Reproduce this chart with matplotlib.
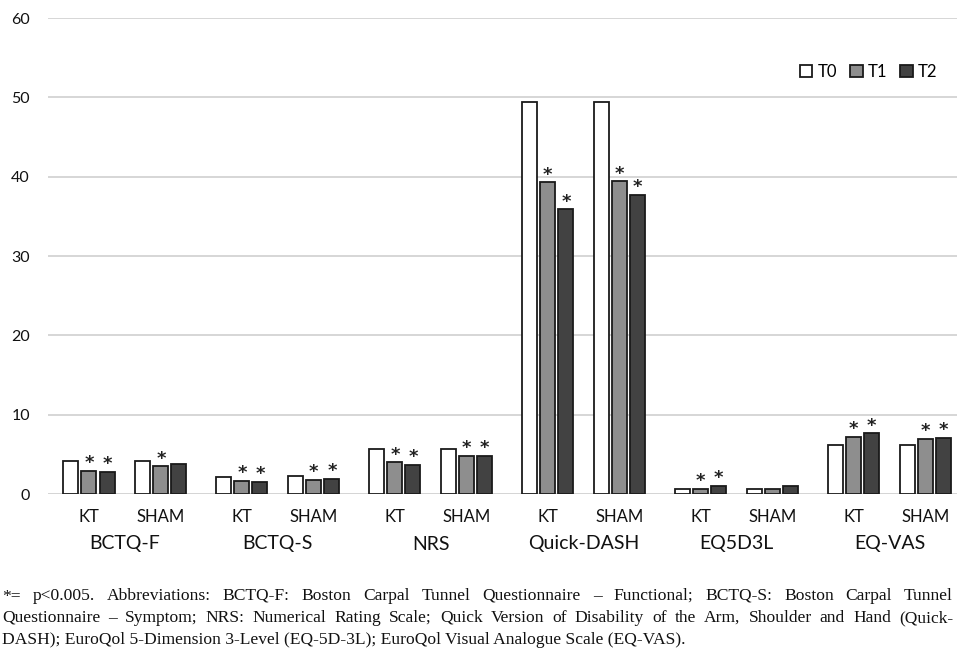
import matplotlib
matplotlib.use("Agg")
import matplotlib.pyplot as plt
import numpy as np
from matplotlib.patches import Patch

categories = ["BCTQ-F", "BCTQ-S", "NRS", "Quick-DASH", "EQ5D3L", "EQ-VAS"]
groups = ["KT", "SHAM"]
series = ["T0", "T1", "T2"]

# values per category: [KT, SHAM]
T0 = [[4.2, 4.2], [2.15, 2.27], [5.67, 5.7], [49.4, 49.4], [0.67, 0.67], [6.18, 6.18]]
T1 = [[2.9, 3.5], [1.64, 1.8], [4.0, 4.8], [39.3, 39.4], [0.67, 0.67], [7.19, 6.94]]
T2 = [[2.8, 3.75], [1.55, 1.89], [3.66, 4.83], [35.9, 37.7], [1.0, 1.0], [7.65, 7.06]]

# significance flags (T1, T2) per category, per group
sig_T1 = [[1, 1], [1, 1], [1, 1], [1, 1], [1, 0], [1, 1]]
sig_T2 = [[1, 0], [1, 1], [1, 1], [1, 1], [1, 0], [1, 1]]

yticks = [0, 10, 20, 30, 40, 50, 60]

footnote = [
    "*= p<0.005. Abbreviations: BCTQ-F: Boston Carpal Tunnel Questionnaire \u2013 Functional; BCTQ-S: Boston Carpal Tunnel",
    "Questionnaire \u2013 Symptom; NRS: Numerical Rating Scale; Quick Version of Disability of the Arm, Shoulder and Hand (Quick-",
    "DASH); EuroQol 5-Dimension 3-Level (EQ-5D-3L); EuroQol Visual Analogue Scale (EQ-VAS).",
]
justify = [True, True, False]

colors = ["#ffffff", "#8e8e8e", "#424242"]
edge = "#1a1a1a"

W, H = 957, 652
fig = plt.figure(figsize=(W / 100, H / 100), dpi=100)
ax = fig.add_axes([48 / W, (H - 494) / H, 1 - 48 / W, (494 - 18) / H])

sub_off = 0.235
bw = 0.098
pitch = 0.118
data = [T0, T1, T2]
sigs = [None, sig_T1, sig_T2]

for ci, cat in enumerate(categories):
    for gi, g in enumerate(groups):
        center = ci + (-sub_off if gi == 0 else sub_off)
        for si in range(3):
            x = center + (si - 1) * pitch
            v = data[si][ci][gi]
            ax.bar(x, v, width=bw, color=colors[si], edgecolor=edge, linewidth=1.3, zorder=3)
            if si > 0 and sigs[si][ci][gi]:
                ax.annotate("*", (x, v), xytext=(0, -1), textcoords="offset points",
                            ha="center", va="bottom", fontsize=13, fontweight="bold",
                            color="#222222", zorder=4)

ax.set_ylim(0, 60)
ax.set_xlim(-0.503, 5.44)
ax.set_yticks(yticks)
ax.set_yticklabels([str(t) for t in yticks], fontsize=11.5, family="Lato", color="#111111")
ax.tick_params(axis="y", length=0, pad=13)
ax.grid(axis="y", color="#d6d6d6", linewidth=1.4, zorder=0)
for s in ax.spines.values():
    s.set_visible(False)
ax.axhline(0, color="#d0d0d0", linewidth=1.4, zorder=1)

ax.set_xticks([])
for ci, cat in enumerate(categories):
    for gi, g in enumerate(groups):
        center = ci + (-sub_off if gi == 0 else sub_off)
        ax.annotate(g, (center, 0), xytext=(0, -16.5), textcoords="offset points",
                    ha="center", va="center", fontsize=12, family="Lato", color="#111111",
                    annotation_clip=False)
    ax.annotate(cat, (ci, 0), xytext=(0, -36), textcoords="offset points",
                ha="center", va="center", fontsize=14, family="Lato", color="#111111",
                annotation_clip=False)

handles = [Patch(facecolor=colors[i], edgecolor=edge, linewidth=1.3) for i in range(3)]
ax.legend(handles, series, loc="upper right", bbox_to_anchor=(0.995, 0.935), ncol=3,
          frameon=False, handlelength=0.75, handleheight=0.75, handletextpad=0.3,
          columnspacing=0.8, prop={"family": "Lato", "size": 12})

# footnote, lines 1-2 justified to the right edge
renderer = fig.canvas.get_renderer()
ys = [596, 618, 640]
x0 = 2
target_right = 953
fs = 12.6
for line, y, just in zip(footnote, ys, justify):
    yf = 1 - y / H
    if not just:
        fig.text(x0 / W, yf, line, ha="left", va="center", fontsize=fs,
                 family="Liberation Serif", color="#111111")
        continue
    words = line.split(" ")
    objs = [fig.text(0, yf, w_, ha="left", va="center", fontsize=fs,
                     family="Liberation Serif", color="#111111") for w_ in words]
    widths = [o.get_window_extent(renderer).width for o in objs]
    gap = (target_right - x0 - sum(widths)) / (len(words) - 1)
    xpos = x0
    for o, wd in zip(objs, widths):
        o.set_x(xpos / W)
        xpos += wd + gap

fig.savefig("out.png", dpi=100)
